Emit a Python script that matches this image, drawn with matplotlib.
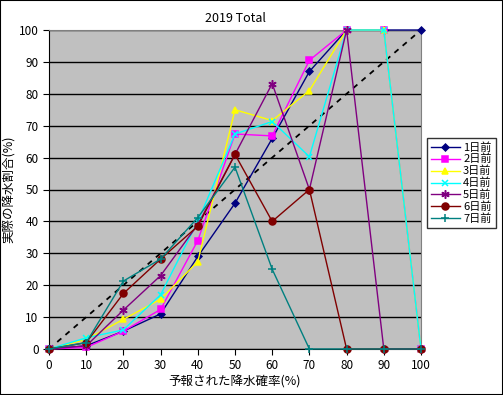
import matplotlib
matplotlib.use("Agg")
import matplotlib.pyplot as plt
from matplotlib.patches import Rectangle

plt.rcParams['font.family'] = ['Noto Sans CJK JP', 'DejaVu Sans']

x = [0, 10, 20, 30, 40, 50, 60, 70, 80, 90, 100]
series_names = ["1日前", "2日前", "3日前", "4日前", "5日前", "6日前", "7日前"]
d1 = [0, 1, 5.6, 11, 29, 45.7, 66, 87, 100, 100, 100]
d2 = [0, 0.5, 5.6, 12.4, 34, 67.4, 66.8, 90.5, 100, 100, 0]
d3 = [0, 3, 9.3, 15.6, 27.4, 75, 71.6, 81, 100, 100, 0]
d4 = [0, 3.5, 6, 17, 40, 67.4, 71.3, 60.3, 100, 100, 0]
d5 = [0, 1, 12.2, 23, 39, 61, 83.2, 50, 100, 0, 0]
d6 = [0, 2, 17.4, 28.2, 38.5, 61, 40, 50, 0, 0, 0]
d7 = [0, 2, 21.3, 28.2, 41.2, 57, 25, 0, 0, 0, 0]
diag = [0, 100]

colors = ["#000080", "#FF00FF", "#FFFF00", "#00FFFF", "#800080", "#800000", "#008080"]
markers = ["D", "s", "^", "x", (6, 2, 0), "o", "+"]
msizes = [3.5, 5, 5, 5, 6, 5, 6]

fig = plt.figure(figsize=(5.03, 3.95), dpi=100)
fig.patch.set_facecolor("white")
fig.add_artist(Rectangle((0, 0), 1, 1, transform=fig.transFigure, fill=False,
                         edgecolor="black", linewidth=1.5))
ax = fig.add_axes([49/503, 46/395, 372/503, 319/395])
ax.set_facecolor("#C0C0C0")
ax.set_xlim(0, 100)
ax.set_ylim(0, 100)
ax.set_xticks(range(0, 101, 10))
ax.set_yticks(range(0, 101, 10))
ax.grid(axis='y', color='black', linewidth=1)
ax.set_axisbelow(True)

ax.plot(diag, diag, color='black', linestyle=(0, (3, 3)), linewidth=1.3, zorder=2)
data = [d1, d2, d3, d4, d5, d6, d7]
for name, ys, c, m, ms in zip(series_names, data, colors, markers, msizes):
    ax.plot(x, ys, color=c, marker=m, markersize=ms, linewidth=1.0,
            markeredgewidth=1.1, label=name, clip_on=False, zorder=3)

for s in ['top', 'right']:
    ax.spines[s].set_color('#808080')
for s in ['left', 'bottom']:
    ax.spines[s].set_color('black')
ax.tick_params(direction='out', length=4, labelsize=8.5, colors='black')

ax.set_title("2019 Total", fontsize=9, pad=6)
ax.set_xlabel("予報された降水確率(%)", fontsize=9, labelpad=2)
ax.set_ylabel("実際の降水割合(%)", fontsize=9, labelpad=2)

leg = fig.legend(loc='upper left', bbox_to_anchor=(427/503, 1 - 138/395),
                 fontsize=8, frameon=True, fancybox=False, edgecolor='black',
                 handlelength=2.6, borderpad=0.35, labelspacing=0.12,
                 handletextpad=0.3, borderaxespad=0)
leg.get_frame().set_linewidth(1.0)

fig.savefig("out.png", dpi=100)
